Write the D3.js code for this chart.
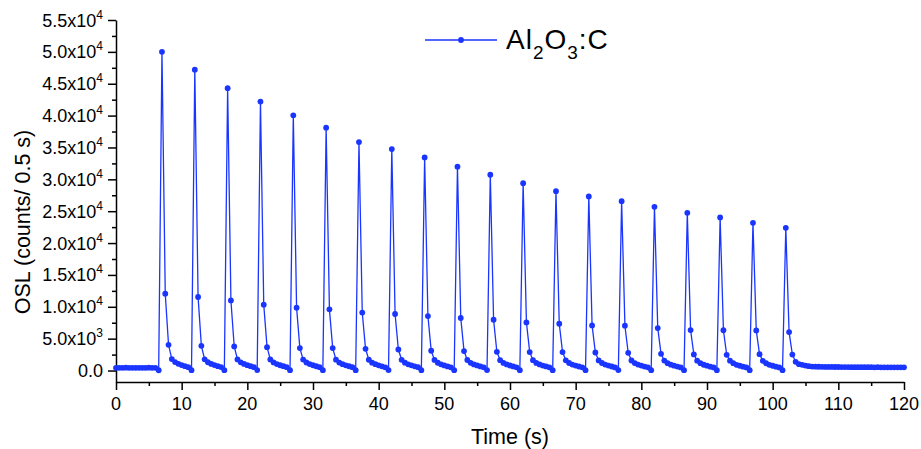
<!DOCTYPE html>
<html lang="en">
<head>
<meta charset="UTF-8">
<title>OSL decay: Al2O3:C</title>
<script src="https://d3js.org/d3.v7.min.js"></script>
<style>
    body { margin: 0; background: #fff; }
    svg { display: block; font-family: "Liberation Sans", Arial, sans-serif; }
    .axis path, .axis line { stroke: #000; stroke-width: 1.5px; }
</style>
</head>
<body>
<svg width="921" height="449"></svg>
<script>
// readings every 0.5 s
const step = 0.5;

// baseline before the first stimulation, t = 0 ... 6 s
const leadIn = [430, 420, 430, 440, 430, 420, 430, 430, 420, 430, 440, 430, 420];

// one row per pulse (peaks at 7, 12, ... 102 s)
const dips   = [40, 60, 50, 70, 60, 50, 60, 70, 50, 60, 70, 60, 50, 60, 70, 60, 50, 60, 50, 60];
const peaks  = [50000, 47200, 44300, 42200, 40050, 38100, 35850, 34750, 33440, 31980,
                30720, 29400, 28140, 27310, 26570, 25690, 24750, 24010, 23170, 22390];
const decay1 = [12060, 11540, 11000, 10330, 9860, 9600, 9100, 8870, 8550, 8240,
                7970, 7550, 7340, 7080, 7030, 6660, 6350, 6320, 6300, 6030];
const decay2 = [4040, 3880, 3780, 3670, 3520, 3520, 3410, 3300, 3100, 3050,
                2940, 2890, 2890, 2830, 2780, 2620, 2520, 2470, 2570, 2500];
const decay3 = [1790, 1760, 1750, 1730, 1720, 1700, 1690, 1680, 1660, 1650,
                1630, 1620, 1600, 1590, 1570, 1560, 1550, 1540, 1520, 1370];
const tail1  = [1320, 1300, 1290, 1270, 1260, 1250, 1240, 1230, 1220, 1210,
                1200, 1190, 1180, 1180, 1170, 1160, 1150, 1150, 1140, 1000];
const tail2  = [1050, 1040, 1030, 1020, 1010, 1000, 990, 980, 970, 960,
                950, 950, 940, 930, 930, 920, 910, 900, 900, 900];
const tail3  = [850, 850, 840, 830, 830, 820, 810, 810, 800, 800,
                790, 780, 780, 770, 770, 760, 760, 750, 750, 780];
const tail4  = [690, 690, 680, 680, 670, 670, 660, 660, 650, 650,
                640, 640, 630, 630, 620, 620, 610, 610, 600, 680];
const tail5  = [530, 540, 530, 530, 520, 520, 510, 520, 510, 500,
                510, 500, 500, 490, 500, 490, 480, 490, 480, 620];

// after the last pulse, t = 106.5 ... 120 s
const tailOut = [600, 590, 580, 570, 560, 560, 550, 550, 540, 540, 540, 530, 530, 530,
                 520, 530, 520, 520, 510, 520, 510, 510, 510, 500, 510, 500, 500, 500];

const xTicks = [0, 10, 20, 30, 40, 50, 60, 70, 80, 90, 100, 110, 120];
const yTicks = [0, 5000, 10000, 15000, 20000, 25000, 30000, 35000, 40000, 45000, 50000, 55000];
const yTickLabels = [["0.0", ""], ["5.0", "3"], ["1.0", "4"], ["1.5", "4"], ["2.0", "4"], ["2.5", "4"],
                     ["3.0", "4"], ["3.5", "4"], ["4.0", "4"], ["4.5", "4"], ["5.0", "4"], ["5.5", "4"]];

const counts = [...leadIn];
peaks.forEach((p, i) => {
    counts.push(dips[i], p, decay1[i], decay2[i], decay3[i], tail1[i], tail2[i], tail3[i], tail4[i], tail5[i]);
});
counts.push(...tailOut);
const data = counts.map((v, i) => ({ t: i * step, v: v }));

const blue = "#1a35ff";
const svg = d3.select("svg");

const x = d3.scaleLinear().domain([0, 120]).range([116, 904]);
const y = d3.scaleLinear().domain([-1800, 55000]).range([382, 20]);

// minor ticks first, then major ticks with the axis line
svg.append("g").attr("class", "axis")
    .attr("transform", "translate(0,382)")
    .call(d3.axisBottom(x).tickValues(d3.range(5, 120, 10)).tickSize(4).tickFormat(""))
    .select(".domain").remove();
svg.append("g").attr("class", "axis")
    .attr("transform", "translate(116,0)")
    .call(d3.axisLeft(y).tickValues(d3.range(2500, 55000, 5000)).tickSize(4).tickFormat(""))
    .select(".domain").remove();

svg.append("g").attr("class", "axis")
    .attr("transform", "translate(0,382)")
    .call(d3.axisBottom(x).tickValues(xTicks).tickSize(8).tickSizeOuter(0).tickFormat(""));
svg.append("g").attr("class", "axis")
    .attr("transform", "translate(116,0)")
    .call(d3.axisLeft(y).tickValues(yTicks).tickSize(8).tickSizeOuter(0).tickFormat(""));

// tick labels
svg.append("g").selectAll("text")
    .data(xTicks)
    .join("text")
    .attr("x", d => x(d))
    .attr("y", 410)
    .attr("text-anchor", "middle")
    .attr("font-size", 18)
    .text(d => d);

const yl = svg.append("g").selectAll("text")
    .data(yTicks)
    .join("text")
    .attr("x", 103)
    .attr("y", d => y(d) + 6.5)
    .attr("text-anchor", "end")
    .attr("font-size", 18);
yl.append("tspan").text((d, i) => yTickLabels[i][0] + (yTickLabels[i][1] ? "x10" : ""));
yl.append("tspan")
    .attr("font-size", 12)
    .attr("dy", -8)
    .text((d, i) => yTickLabels[i][1]);

// axis titles
svg.append("text")
    .attr("x", 510).attr("y", 444)
    .attr("text-anchor", "middle")
    .attr("font-size", 21.5)
    .text("Time (s)");
svg.append("text")
    .attr("transform", "translate(30,222) rotate(-90)")
    .attr("text-anchor", "middle")
    .attr("font-size", 21.5)
    .text("OSL (counts/ 0.5 s)");

// series
const line = d3.line().x(d => x(d.t)).y(d => y(d.v));
svg.append("path")
    .datum(data)
    .attr("fill", "none")
    .attr("stroke", blue)
    .attr("stroke-width", 1.3)
    .attr("d", line);
svg.append("g").selectAll("circle")
    .data(data)
    .join("circle")
    .attr("cx", d => x(d.t))
    .attr("cy", d => y(d.v))
    .attr("r", 2.9)
    .attr("fill", blue);

// legend
const lg = svg.append("g");
lg.append("line").attr("x1", 425).attr("x2", 497).attr("y1", 40).attr("y2", 40)
    .attr("stroke", blue).attr("stroke-width", 1.3);
lg.append("circle").attr("cx", 461).attr("cy", 40).attr("r", 2.9).attr("fill", blue);
const lt = lg.append("text").attr("x", 506).attr("y", 49).attr("font-size", 28)
    .attr("letter-spacing", 1);
lt.append("tspan").text("Al");
lt.append("tspan").attr("font-size", 19).attr("dy", 10).text("2");
lt.append("tspan").attr("dy", -10).text("O");
lt.append("tspan").attr("font-size", 19).attr("dy", 10).text("3");
lt.append("tspan").attr("dy", -10).text(":C");
</script>
</body>
</html>
